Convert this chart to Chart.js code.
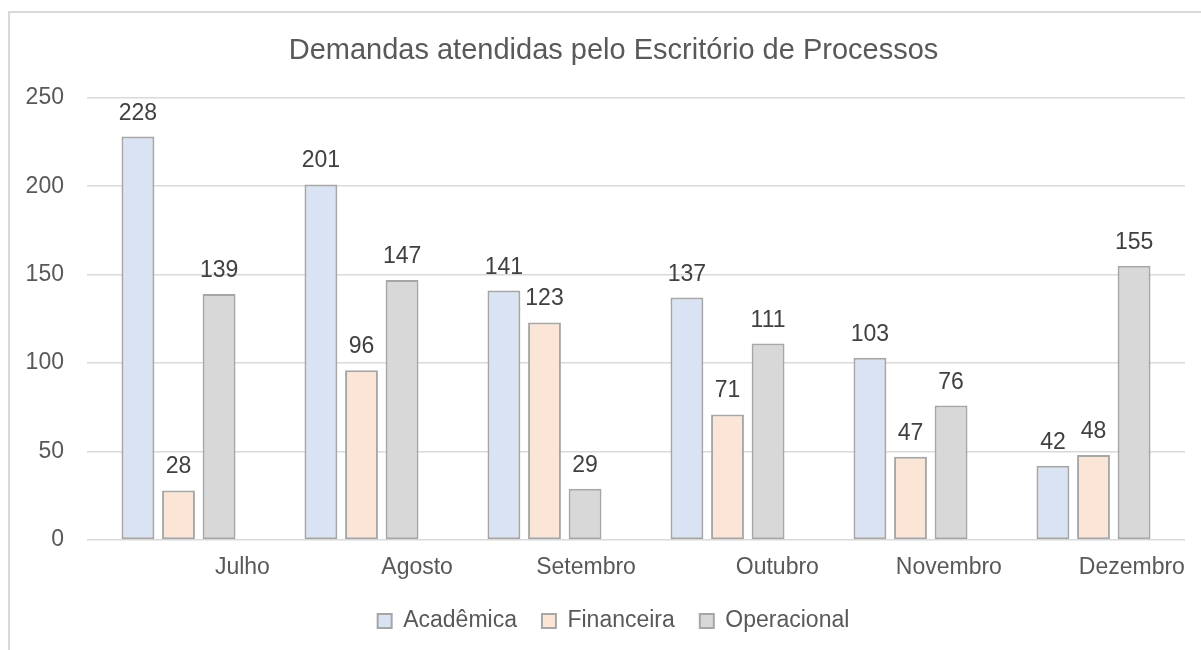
<!DOCTYPE html>
<html lang="pt">
<head>
  <meta charset="UTF-8">
  <title>Demandas atendidas pelo Escritório de Processos</title>
  <script src="https://cdn.jsdelivr.net/npm/chart.js@4/dist/chart.umd.min.js"></script>
  <style>
    html, body { margin: 0; padding: 0; overflow: hidden; background: #fff; }
    .frame {
      position: absolute; left: 8px; top: 11px; width: 1300px; height: 800px;
      border-left: 2px solid #D9D9D9; border-top: 2px solid #D9D9D9;
    }
    #chart { position: absolute; left: 0; top: 0; }
  </style>
</head>
<body>
  <div class="frame"></div>
  <canvas id="chart" width="1201" height="650"></canvas>

  <script>
    // data
    const months = ['Julho', 'Agosto', 'Setembro', 'Outubro', 'Novembro', 'Dezembro'];
    const academica = [228, 201, 141, 137, 103, 42];
    const financeira = [28, 96, 123, 71, 47, 48];
    const operacional = [139, 147, 29, 111, 76, 155];
    const yTicks = [0, 50, 100, 150, 200, 250];

    const FONT = "'Liberation Sans', Arial, sans-serif";

    // values on top of every bar
    const barValues = {
      id: 'barValues',
      afterDatasetsDraw(chart) {
        const ctx = chart.ctx;
        ctx.save();
        ctx.font = '23px ' + FONT;
        ctx.fillStyle = '#404040';
        ctx.textAlign = 'center';
        ctx.textBaseline = 'alphabetic';
        chart.data.datasets.forEach((ds, i) => {
          chart.getDatasetMeta(i).data.forEach((bar, j) => {
            ctx.fillText(ds.data[j], bar.x, bar.y - 17);
          });
        });
        ctx.restore();
      }
    };

    const border = '#A6A6A6';

    new Chart(document.getElementById('chart'), {
      type: 'bar',
      data: {
        labels: months,
        datasets: [
          { label: 'Acadêmica', data: academica, backgroundColor: '#DAE3F3' },
          { label: 'Financeira', data: financeira, backgroundColor: '#FBE5D6' },
          { label: 'Operacional', data: operacional, backgroundColor: '#D8D8D8' }
        ].map(d => Object.assign(d, {
          borderColor: border, borderWidth: 2, borderSkipped: false,
          categoryPercentage: 0.665, barPercentage: 0.81
        }))
      },
      options: {
        responsive: false,
        animation: false,
        layout: { padding: { left: 42, right: 16, top: 0, bottom: 7.5 } },
        plugins: {
          title: {
            display: true,
            text: 'Demandas atendidas pelo Escritório de Processos',
            color: '#595959',
            font: { family: FONT, size: 29, weight: 'normal', lineHeight: 1.2 },
            padding: { top: 33.5, bottom: 29.4 }
          },
          legend: {
            position: 'bottom',
            labels: {
              color: '#595959',
              font: { family: FONT, size: 23 },
              boxWidth: 14, boxHeight: 14,
              padding: 25
            }
          },
          tooltip: { enabled: false }
        },
        scales: {
          x: {
            grid: { display: false, drawTicks: false },
            border: { display: false },
            ticks: {
              color: '#595959',
              font: { family: FONT, size: 23 },
              align: 'end',
              labelOffset: 91.4,
              padding: 13.7,
              maxRotation: 0,
              autoSkip: false
            },
            afterFit(scale) { scale.height = 44.5; }
          },
          y: {
            min: 0,
            max: 250,
            afterBuildTicks(scale) { scale.ticks = yTicks.map(v => ({ value: v })); },
            grid: { color: '#D9D9D9', lineWidth: 1.5, drawTicks: false },
            border: { display: false },
            ticks: {
              color: '#595959',
              font: { family: FONT, size: 23 },
              mirror: true,
              crossAlign: 'far',
              padding: -61.4
            },
            afterFit(scale) { scale.width = 45; }
          }
        }
      },
      plugins: [barValues]
    });
  </script>
</body>
</html>
